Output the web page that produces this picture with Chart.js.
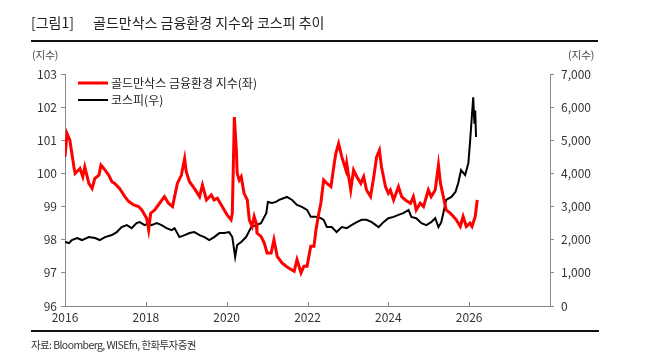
<!DOCTYPE html>
<html>
<head>
<meta charset="utf-8">
<script src="https://cdn.jsdelivr.net/npm/chart.js@4.4.1/dist/chart.umd.min.js"></script>
<style>
  html, body { margin: 0; padding: 0; background: #fff; }
  #wrap { position: relative; width: 646px; height: 356px; overflow: hidden; font-family: "Noto Sans CJK KR", "Noto Sans", sans-serif; }
  #c { position: absolute; left: 0; top: 0; }
  .t { position: absolute; white-space: nowrap; color: #222; }
  .rule { position: absolute; background: #111; }
</style>
</head>
<body>
<div id="wrap">
  <canvas id="c" width="646" height="356"></canvas>
  <div class="t" style="left:31px; top:12px; font-size:14px;">[그림1]</div>
  <div class="t" style="left:93px; top:12px; font-size:14px;">골드만삭스 금융환경 지수와 코스피 추이</div>
  <div class="rule" style="left:31px; top:40px; width:567px; height:1.5px;"></div>
  <div class="t" style="left:32px; top:47px; font-size:10.5px; color:#444;">(지수)</div>
  <div class="t" style="left:568px; top:47px; font-size:10.5px; color:#444;">(지수)</div>
  <div class="rule" style="left:31px; top:330px; width:568px; height:1.5px;"></div>
  <div class="t" style="left:31px; top:337px; font-size:10.5px; color:#333; letter-spacing:-0.6px;">자료: Bloomberg, WISEfn, 한화투자증권</div>
</div>
<script>
// Goldman Sachs Financial Conditions Index (left axis)
const fciYears = [2016.00,2016.05,2016.12,2016.22,2016.25,2016.37,2016.44,2016.49,2016.59,2016.67,2016.74,2016.84,2016.89,2016.96,2017.08,2017.16,2017.23,2017.35,2017.48,2017.58,2017.70,2017.82,2017.90,2018.02,2018.07,2018.12,2018.22,2018.34,2018.46,2018.56,2018.66,2018.78,2018.88,2018.96,2019.00,2019.08,2019.20,2019.33,2019.40,2019.50,2019.62,2019.69,2019.77,2019.89,2020.01,2020.11,2020.14,2020.19,2020.24,2020.26,2020.31,2020.36,2020.43,2020.51,2020.56,2020.63,2020.68,2020.73,2020.75,2020.85,2020.93,2021.00,2021.10,2021.17,2021.25,2021.37,2021.47,2021.59,2021.67,2021.74,2021.84,2021.91,2021.99,2022.08,2022.16,2022.21,2022.28,2022.33,2022.40,2022.48,2022.58,2022.65,2022.70,2022.77,2022.85,2022.95,2022.97,2023.07,2023.14,2023.22,2023.32,2023.39,2023.46,2023.56,2023.64,2023.71,2023.78,2023.83,2023.93,2024.00,2024.05,2024.13,2024.25,2024.33,2024.42,2024.55,2024.62,2024.69,2024.79,2024.87,2024.99,2025.06,2025.16,2025.24,2025.29,2025.36,2025.43,2025.53,2025.61,2025.68,2025.78,2025.85,2025.93,2026.02,2026.07,2026.15,2026.20];
const fciValues = [100.5,101.2,101.0,100.2,100.0,100.15,99.9,100.2,99.7,99.55,99.85,99.95,100.25,100.15,99.95,99.75,99.7,99.55,99.3,99.15,99.05,99.0,98.9,98.65,98.3,98.8,98.9,99.1,99.3,99.1,99.0,99.7,99.95,100.45,100.05,99.75,99.55,99.3,99.65,99.2,99.35,99.2,99.25,99.0,98.75,98.6,98.8,101.7,100.7,100.0,99.8,99.9,99.4,99.2,98.6,98.4,98.7,98.5,98.2,98.1,97.9,97.6,97.6,98.0,97.5,97.3,97.2,97.1,97.05,97.4,97.0,97.2,97.2,97.8,97.8,98.3,98.8,99.1,99.8,99.7,99.6,100.2,100.6,100.9,100.5,100.1,100.3,99.5,100.1,99.9,99.7,99.9,99.5,99.3,99.9,100.5,100.7,100.2,99.6,99.4,99.5,99.2,99.6,99.3,99.2,99.1,99.3,98.9,99.1,99.0,99.5,99.3,99.5,100.25,99.7,99.3,98.9,98.8,98.7,98.6,98.4,98.7,98.4,98.5,98.4,98.7,99.2];

// KOSPI (right axis)
const kospiYears = [2016.00,2016.10,2016.17,2016.30,2016.42,2016.59,2016.74,2016.86,2016.99,2017.16,2017.28,2017.40,2017.53,2017.65,2017.77,2017.85,2017.97,2018.07,2018.14,2018.27,2018.39,2018.51,2018.64,2018.71,2018.83,2018.96,2019.08,2019.20,2019.33,2019.45,2019.57,2019.69,2019.82,2019.94,2020.06,2020.14,2020.21,2020.26,2020.36,2020.48,2020.61,2020.73,2020.85,2020.98,2021.02,2021.12,2021.22,2021.30,2021.42,2021.49,2021.62,2021.74,2021.86,2021.99,2022.08,2022.21,2022.33,2022.40,2022.48,2022.60,2022.72,2022.85,2022.97,2023.09,2023.22,2023.34,2023.46,2023.59,2023.76,2023.88,2024.00,2024.13,2024.25,2024.37,2024.50,2024.57,2024.69,2024.82,2024.94,2025.06,2025.16,2025.24,2025.31,2025.36,2025.43,2025.56,2025.66,2025.73,2025.80,2025.90,2025.98,2026.02,2026.10,2026.13,2026.15,2026.17];
const kospiValues = [1930,1900,1990,2050,1990,2080,2050,1990,2080,2140,2230,2380,2440,2350,2500,2530,2440,2500,2440,2500,2440,2350,2290,2350,2080,2140,2200,2230,2140,2080,1990,2080,2200,2200,2230,2080,1480,1840,1930,2080,2380,2440,2500,2800,3140,3110,3140,3200,3260,3290,3200,3050,2990,2900,2690,2690,2650,2600,2380,2380,2230,2380,2350,2440,2530,2600,2600,2530,2380,2530,2650,2690,2750,2800,2900,2690,2650,2500,2440,2530,2650,2380,2530,2800,3200,3290,3440,3710,4100,3950,4310,4920,6300,5500,5900,5100];

const xTicks = [2016, 2018, 2020, 2022, 2024, 2026];
const leftTicks = [96, 97, 98, 99, 100, 101, 102, 103];
const rightTicks = [0, 1000, 2000, 3000, 4000, 5000, 6000, 7000];
const seriesNames = ['골드만삭스 금융환경 지수(좌)', '코스피(우)'];

const FONT = '"Noto Sans CJK KR", "Noto Sans", sans-serif';
const AXIS = '#8a8a8a';

const innerXTicks = {
  id: 'innerXTicks',
  afterDraw(chart) {
    const ctx = chart.ctx, xs = chart.scales.x, a = chart.chartArea;
    ctx.save();
    ctx.strokeStyle = AXIS; ctx.lineWidth = 1;
    xTicks.forEach(v => {
      const px = Math.round(xs.getPixelForValue(v)) + 0.5;
      ctx.beginPath(); ctx.moveTo(px, a.bottom); ctx.lineTo(px, a.bottom - 4); ctx.stroke();
    });
    ctx.restore();
  }
};

const customLegend = {
  id: 'customLegend',
  afterDraw(chart) {
    const ctx = chart.ctx, a = chart.chartArea;
    ctx.save();
    ctx.font = '12px ' + FONT;
    ctx.textBaseline = 'middle';
    chart.data.datasets.forEach((ds, i) => {
      const y = a.top + 9 + i * 17;
      const x0 = a.left + 13;
      ctx.strokeStyle = ds.borderColor;
      ctx.lineWidth = i === 0 ? 3 : 2;
      ctx.beginPath(); ctx.moveTo(x0, y); ctx.lineTo(x0 + 30, y); ctx.stroke();
      ctx.fillStyle = '#222';
      ctx.fillText(ds.label, x0 + 33, y);
    });
    ctx.restore();
  }
};

new Chart(document.getElementById('c'), {
  type: 'line',
  data: {
    datasets: [
      {
        label: seriesNames[0],
        data: fciYears.map((x, i) => ({ x, y: fciValues[i] })),
        borderColor: '#ff0000',
        borderWidth: 3,
        pointRadius: 0,
        tension: 0,
        yAxisID: 'yL'
      },
      {
        label: seriesNames[1],
        data: kospiYears.map((x, i) => ({ x, y: kospiValues[i] })),
        borderColor: '#000000',
        borderWidth: 2,
        pointRadius: 0,
        tension: 0,
        yAxisID: 'yR'
      }
    ]
  },
  options: {
    responsive: false,
    animation: false,
    layout: { padding: { top: 74, left: 0, right: 0, bottom: 0 } },
    plugins: { legend: { display: false }, tooltip: { enabled: false }, title: { display: false } },
    scales: {
      x: {
        type: 'linear',
        min: 2016, max: 2028,
        afterBuildTicks(s) { s.ticks = xTicks.map(v => ({ value: v })); },
        afterFit(s) { s.height = 50; },
        grid: { display: false, drawTicks: false },
        border: { display: true, color: AXIS, width: 1 },
        ticks: { color: '#333', font: { family: FONT, size: 12 }, padding: 4, maxRotation: 0, autoSkip: false, callback: v => String(v) }
      },
      yL: {
        position: 'left',
        min: 96, max: 103,
        afterBuildTicks(s) { s.ticks = leftTicks.map(v => ({ value: v })); },
        afterFit(s) { s.width = 65; },
        grid: { display: true, drawOnChartArea: false, drawTicks: true, tickLength: 4, color: AXIS },
        border: { display: true, color: AXIS, width: 1 },
        ticks: { color: '#333', font: { family: FONT, size: 12 }, padding: 4, callback: v => String(v) }
      },
      yR: {
        position: 'right',
        min: 0, max: 7000,
        afterBuildTicks(s) { s.ticks = rightTicks.map(v => ({ value: v })); },
        afterFit(s) { s.width = 96; },
        grid: { display: true, drawOnChartArea: false, drawTicks: true, tickLength: 4, color: AXIS },
        border: { display: true, color: AXIS, width: 1 },
        ticks: { color: '#333', font: { family: FONT, size: 12 }, padding: 7, callback: v => v.toLocaleString('en-US') }
      }
    }
  },
  plugins: [innerXTicks, customLegend]
});
</script>
</body>
</html>
